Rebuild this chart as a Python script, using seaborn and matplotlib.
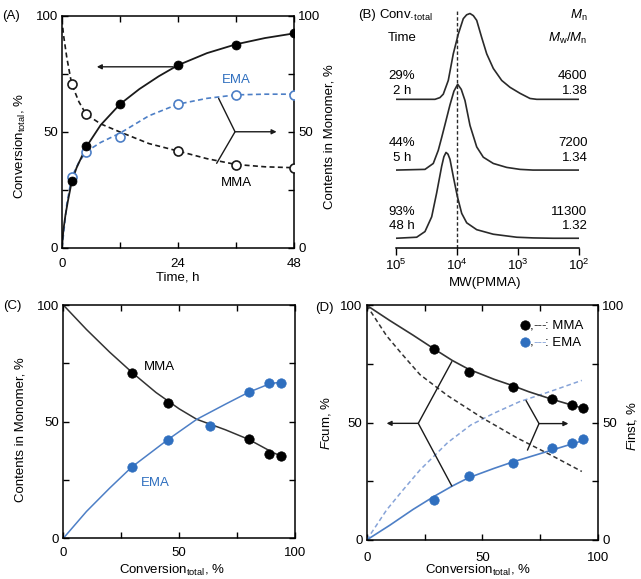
import numpy as np
import matplotlib
matplotlib.use('Agg')
import matplotlib.pyplot as plt
from matplotlib.ticker import NullLocator
import seaborn as sns

# ---------------- data ----------------
# (A) time course
time_h = [2, 5, 12, 24, 36, 48]
conv_total = [29, 44, 62, 79, 87.5, 92.5]
mma_content_a = [70.7, 57.6, np.nan, 41.8, 35.8, 34.6]
ema_content_a = [30.5, 41.5, 48, 62, 66, 66]

fit_t = [0, 0.3, 0.7, 1.2, 2, 3, 5, 8, 12, 16, 20, 24, 30, 36, 42, 48]
fit_conv = [0, 8, 14, 20, 28.5, 34.5, 43.5, 53, 62, 68.5, 74, 78.8, 84, 87.8, 90.5, 92.5]
fit_t_ema = [0, 1, 2, 3.5, 5, 8, 12, 18, 24, 30, 36, 42, 48]
fit_ema_a = [0, 19, 30.5, 37, 41.5, 45.5, 49.5, 57, 62, 64.5, 66, 66.3, 66.3]
fit_t_mma = [0, 0.3, 1, 2, 3.5, 5, 8, 12, 18, 24, 30, 36, 42, 48]
fit_mma_a = [98.5, 92, 82, 70.7, 63, 57.6, 53.5, 50, 45, 41.8, 38.5, 36, 35, 34.6]

# (B) GPC traces (log10 MW, normalised intensity)
gpc_logmw_2h = [5.0, 4.361, 4.28, 4.225, 4.143, 4.061, 3.979, 3.897, 3.842, 3.787,
                3.732, 3.677, 3.595, 3.513, 3.405, 3.267, 3.131, 2.967, 2.803, 2.693, 2.0]
gpc_int_2h = [0, 0, 0.02, 0.06, 0.22, 0.53, 0.76, 0.94, 0.985, 1.0,
              0.975, 0.92, 0.72, 0.53, 0.36, 0.22, 0.14, 0.07, 0.01, 0, 0]
gpc_logmw_5h = [5.0, 4.525, 4.389, 4.307, 4.251, 4.197, 4.115, 4.05, 3.989, 3.93,
                3.869, 3.787, 3.677, 3.569, 3.405, 3.185, 2.967, 2.754, 2.0]
gpc_int_5h = [0, 0.008, 0.077, 0.23, 0.38, 0.53, 0.76, 0.92, 1.0, 0.94,
              0.81, 0.52, 0.27, 0.15, 0.077, 0.031, 0.008, 0, 0]
gpc_logmw_48h = [5.0, 4.661, 4.525, 4.415, 4.333, 4.251, 4.215, 4.180, 4.148, 4.115,
                 4.061, 3.995, 3.923, 3.841, 3.677, 3.405, 3.021, 2.749, 2.426, 2.0]
gpc_int_48h = [0, 0.012, 0.078, 0.25, 0.53, 0.84, 0.95, 1.0, 0.98, 0.92,
               0.72, 0.49, 0.29, 0.18, 0.10, 0.047, 0.012, 0.004, 0, 0]
gpc_conv_labels = ['29%', '44%', '93%']
gpc_time_labels = ['2 h', '5 h', '48 h']
gpc_mn = ['4600', '7200', '11300']
gpc_pdi = ['1.38', '1.34', '1.32']
mw_ref = 1e4

# (C) monomer composition vs conversion
conv_c = [29.5, 45, 63.3, 80, 88.8, 94]
mma_content_c = [71, 57.9, np.nan, 42.6, 36.1, 35.4]
ema_content_c = [30.7, 42.1, 48.3, 62.6, 66.4, 66.7]
fit_x_c = [0, 10, 20, 30, 40, 50, 57.6, 70, 80, 90, 94]
fit_mma_c = [100, 89.5, 79.8, 70.8, 62.5, 55.5, 51, 46.5, 42.4, 37, 35.2]
fit_x_c2 = [0, 10, 20, 29.5, 45, 57.6, 70, 80, 89, 94]
fit_ema_c = [0, 11.5, 21.5, 30.5, 42.2, 51, 57.5, 62.6, 66.2, 67]

# (D) copolymer composition vs conversion
conv_d = [29.1, 44.4, 63.4, 80, 88.9, 93.7]
fcum_mma = [81.3, 71.5, 65.3, 59.9, 57.5, 56.1]
fcum_ema = [17, 27.3, 32.9, 39.1, 41.2, 42.9]
fit_x_d = [0, 10, 20, 29, 37, 44, 55, 63, 70, 80, 89, 94]
fit_fcum_mma = [100, 93.5, 87.3, 81.5, 76.5, 72.8, 68.5, 65.8, 63.2, 60, 57.4, 56]
fit_fcum_ema = [0, 6.3, 13, 18.5, 23, 26.5, 30.5, 33.2, 35.3, 38.3, 41, 42.5]
fit_x_d2 = [0, 8.6, 15, 23, 35, 50, 65, 80, 93]
finst_mma = [100, 87, 79.5, 70.5, 61.5, 52, 43.5, 36, 29.2]
fit_x_d3 = [0, 8.6, 15, 23, 35, 45, 55, 66, 80, 93]
finst_ema = [0, 12.8, 20.5, 29.8, 41.5, 49, 54, 58.9, 63.5, 68]

# ---------------- style ----------------
sns.set_theme(style='ticks')
FS = 9.5
plt.rcParams['font.family'] = ['Liberation Sans', 'DejaVu Sans']
plt.rcParams['mathtext.fontset'] = 'custom'
plt.rcParams['mathtext.rm'] = 'Liberation Sans'
plt.rcParams['mathtext.it'] = 'Liberation Sans:italic'
for k in ['text.color', 'axes.labelcolor', 'xtick.color', 'ytick.color', 'axes.edgecolor']:
    plt.rcParams[k] = 'black'
for k in ['font.size', 'axes.labelsize', 'xtick.labelsize', 'ytick.labelsize']:
    plt.rcParams[k] = FS

BLK = '#1a1a1a'
BLUE_PT = '#2f6fbf'
BLUE_LN = '#4d7fc6'
BLUE_LT = '#86a3d8'
DASH = (0, (3, 2))

W, H = 641, 579
fig = plt.figure(figsize=(W / 100, H / 100), dpi=100)


def px_axes(l, t, r, b):
    return fig.add_axes([l / W, 1 - b / H, (r - l) / W, (b - t) / H])


def box_style(ax, xt, xl, yt, yl, xpad, right_labels=False):
    ax.set_xticks(xt)
    ax.set_xticklabels(xl)
    ax.set_yticks(yt)
    ax.set_yticklabels(yl)
    ax.tick_params(direction='in', top=True, right=True, length=4.5, width=1,
                   labelsize=FS, labelright=right_labels)
    ax.tick_params(axis='x', pad=xpad)
    ax.tick_params(axis='y', pad=3)
    for s in ax.spines.values():
        s.set_linewidth(1.1)


def arrow(ax, x0, y0, x1, y1):
    ax.annotate('', xy=(x1, y1), xytext=(x0, y0),
                arrowprops=dict(arrowstyle='-|>', lw=1, color=BLK, mutation_scale=7,
                                shrinkA=0, shrinkB=0))


# ---------------- (A) ----------------
axA = px_axes(62, 16, 294, 248)
sns.lineplot(x=fit_t_ema, y=fit_ema_a, ax=axA, color=BLUE_LN, lw=1.2, linestyle=DASH)
sns.lineplot(x=fit_t_mma, y=fit_mma_a, ax=axA, color=BLK, lw=1.2, linestyle=DASH)
sns.lineplot(x=fit_t, y=fit_conv, ax=axA, color=BLK, lw=1.3)
sns.scatterplot(x=time_h, y=ema_content_a, ax=axA, s=42, facecolor='white',
                edgecolor=BLUE_LN, linewidth=1.2, zorder=4)
sns.scatterplot(x=time_h, y=mma_content_a, ax=axA, s=42, facecolor='white',
                edgecolor=BLK, linewidth=1.2, zorder=4)
sns.scatterplot(x=time_h, y=conv_total, ax=axA, s=42, color='black',
                edgecolor='black', linewidth=0.5, zorder=5)
axA.set_xlim(0, 48)
axA.set_ylim(0, 100)
box_style(axA, [0, 12, 24, 36, 48], ['0', '', '24', '', '48'],
          [0, 25, 50, 75, 100], ['0', '', '50', '', '100'], xpad=7, right_labels=True)
axA.set_xlabel('Time, h')
axA.xaxis.set_label_coords(0.5, -0.129)
axA.xaxis.label.set_va('center')
axA.set_ylabel('Conversion$_{\\mathrm{total}}$, %')
axA.yaxis.set_label_coords(-0.181, 0.44)
axA.yaxis.label.set(va='center', ha='center')
axA.text(1.155, 0.48, 'Contents in Monomer, %', transform=axA.transAxes,
         rotation=90, ha='center', va='center')
axA.text(-0.259, 1.0, '(A)', transform=axA.transAxes, ha='left', va='center')
arrow(axA, 23, 78.1, 7.2, 78.1)
axA.plot([32.4, 35.8, 32.0], [64.5, 50.1, 36.5], color=BLK, lw=1)
arrow(axA, 35.8, 50.1, 44.4, 50.1)
axA.text(36, 72.4, 'EMA', color=BLUE_PT, ha='center', va='center')
axA.text(36, 28.1, 'MMA', color='black', ha='center', va='center')

# ---------------- (B) ----------------
axB = px_axes(396, 4, 579, 248)
offsets = [64.1, 33.6, 4.2]
peak_h = 37
for lm, inten, off in zip([gpc_logmw_2h, gpc_logmw_5h, gpc_logmw_48h],
                          [gpc_int_2h, gpc_int_5h, gpc_int_48h], offsets):
    sns.lineplot(x=10 ** np.array(lm), y=off + peak_h * np.array(inten), ax=axB,
                 color='#2a2a2a', lw=1.2, sort=False, estimator=None)
axB.axvline(mw_ref, ymin=0, ymax=0.975, color='#2a2a2a', lw=1, linestyle=(0, (2.5, 1.6)))
axB.set_xscale('log')
axB.set_xlim(1e5, 1e2)
axB.set_ylim(0, 105.2)
axB.set_yticks([])
axB.set_xticks([1e5, 1e4, 1e3, 1e2])
axB.xaxis.set_minor_locator(NullLocator())
sns.despine(ax=axB, left=True)
axB.spines['bottom'].set_linewidth(1.1)
axB.tick_params(axis='x', direction='out', length=5, width=1, pad=2, labelsize=FS)
axB.set_xlabel('MW(PMMA)')
axB.xaxis.set_label_coords(0.486, -0.143)
axB.xaxis.label.set_va('center')
axB.text(-0.158, 0.955, '(B)', transform=axB.transAxes, ha='center', va='center')
x_left = 10 ** 4.90
x_right = 10 ** 1.861
axB.text(10 ** 4.836, 100.4, 'Conv.$_{\\mathrm{total}}$', ha='center', va='center')
axB.text(x_left, 90.5, 'Time', ha='center', va='center')
axB.text(x_right, 100.4, '$M_\\mathrm{n}$', ha='right', va='center')
axB.text(x_right, 90.5, '$M_\\mathrm{w}/M_\\mathrm{n}$', ha='right', va='center')
row_y = [(74.3, 67.9), (45.3, 38.6), (15.5, 9.7)]
for (y1, y2), c, t, mn, pdi in zip(row_y, gpc_conv_labels, gpc_time_labels, gpc_mn, gpc_pdi):
    axB.text(x_left, y1, c, ha='center', va='center')
    axB.text(x_left, y2, t, ha='center', va='center')
    axB.text(x_right, y1, mn, ha='right', va='center')
    axB.text(x_right, y2, pdi, ha='right', va='center')

# ---------------- (C) ----------------
axC = px_axes(63.3, 305, 295, 538.3)
sns.lineplot(x=fit_x_c, y=fit_mma_c, ax=axC, color='#333333', lw=1.1)
sns.lineplot(x=fit_x_c2, y=fit_ema_c, ax=axC, color=BLUE_LN, lw=1.1)
sns.scatterplot(x=conv_c, y=mma_content_c, ax=axC, s=46, color='black',
                edgecolor='black', linewidth=0.5, zorder=4)
sns.scatterplot(x=conv_c, y=ema_content_c, ax=axC, s=46, color=BLUE_PT,
                edgecolor=BLUE_PT, linewidth=0.5, zorder=5)
axC.set_xlim(0, 100)
axC.set_ylim(0, 100)
box_style(axC, [0, 25, 50, 75, 100], ['0', '', '50', '', '100'],
          [0, 25, 50, 75, 100], ['0', '', '50', '', '100'], xpad=6)
axC.set_xlabel('Conversion$_{\\mathrm{total}}$, %')
axC.xaxis.set_label_coords(0.47, -0.138)
axC.xaxis.label.set_va('center')
axC.set_ylabel('Contents in Monomer, %')
axC.yaxis.set_label_coords(-0.183, 0.464)
axC.yaxis.label.set(va='center', ha='center')
axC.text(-0.26, 0.996, '(C)', transform=axC.transAxes, ha='left', va='center')
axC.text(41.3, 73.4, 'MMA', color='black', ha='center', va='center')
axC.text(39.9, 23.7, 'EMA', color=BLUE_PT, ha='center', va='center')

# ---------------- (D) ----------------
axD = px_axes(366.7, 305.3, 598, 540)
sns.lineplot(x=fit_x_d3, y=finst_ema, ax=axD, color=BLUE_LT, lw=1.1, linestyle=DASH)
sns.lineplot(x=fit_x_d2, y=finst_mma, ax=axD, color='#333333', lw=1.1, linestyle=DASH)
sns.lineplot(x=fit_x_d, y=fit_fcum_mma, ax=axD, color='#333333', lw=1.2)
sns.lineplot(x=fit_x_d, y=fit_fcum_ema, ax=axD, color=BLUE_LN, lw=1.2)
sns.scatterplot(x=conv_d, y=fcum_mma, ax=axD, s=46, color='black',
                edgecolor='black', linewidth=0.5, zorder=4)
sns.scatterplot(x=conv_d, y=fcum_ema, ax=axD, s=46, color=BLUE_PT,
                edgecolor=BLUE_PT, linewidth=0.5, zorder=5)
axD.set_xlim(0, 100)
axD.set_ylim(0, 100)
box_style(axD, [0, 25, 50, 75, 100], ['0', '', '50', '', '100'],
          [0, 25, 50, 75, 100], ['0', '', '50', '', '100'], xpad=8.5, right_labels=True)
axD.set_xlabel('Conversion$_{\\mathrm{total}}$, %')
axD.xaxis.set_label_coords(0.48, -0.13)
axD.xaxis.label.set_va('center')
axD.set_ylabel('$F$cum, %')
axD.yaxis.set_label_coords(-0.176, 0.5)
axD.yaxis.label.set(va='center', ha='center')
axD.text(1.148, 0.486, '$F$inst, %', transform=axD.transAxes,
         rotation=90, ha='center', va='center')
axD.text(-0.224, 0.988, '(D)', transform=axD.transAxes, ha='left', va='center')
# brackets + arrows
axD.plot([36.8, 22.3, 36.8], [76, 49.7, 23], color=BLK, lw=1)
arrow(axD, 22.3, 49.7, 8.6, 49.7)
axD.plot([68.9, 74.5, 69.5], [59.4, 49.6, 38.3], color=BLK, lw=1)
arrow(axD, 74.5, 49.6, 87.2, 49.6)
# key
for ydot, ytxt, col, dcol, name in [(91.6, 89.9, 'black', '#333333', 'MMA'),
                                    (84.5, 82.7, BLUE_PT, BLUE_LT, 'EMA')]:
    sns.scatterplot(x=[68.5], y=[ydot], ax=axD, s=46, color=col, edgecolor=col,
                    linewidth=0.5, zorder=5)
    axD.text(70.6, ytxt, ',', ha='left', va='baseline')
    axD.text(72.0, ytxt, '---', ha='left', va='baseline', color=dcol)
    axD.text(77.3, ytxt, ': ' + name, ha='left', va='baseline')

for ax in [axA, axB, axC, axD]:
    leg = ax.get_legend()
    if leg is not None:
        leg.remove()

fig.savefig('out.png', dpi=100)
